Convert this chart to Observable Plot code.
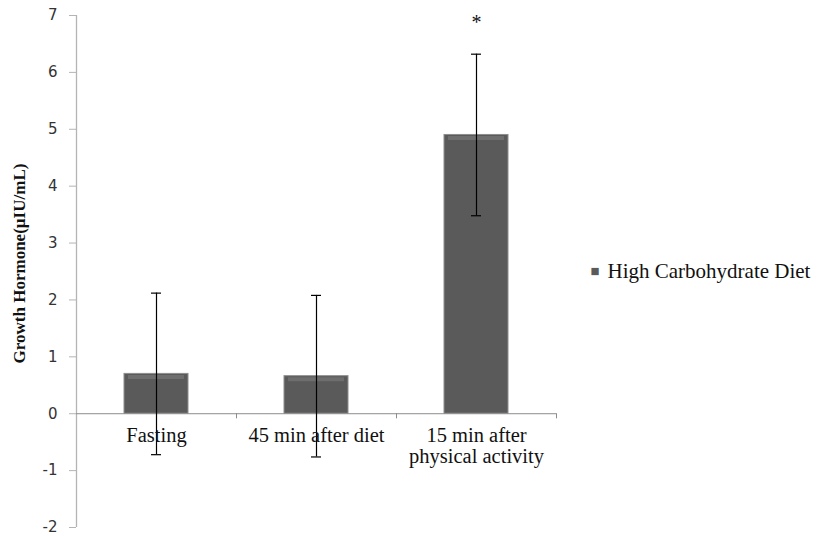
<!DOCTYPE html>
<html>
<head>
<meta charset="utf-8">
<script src="https://cdn.jsdelivr.net/npm/d3@7"></script>
<script src="https://cdn.jsdelivr.net/npm/@observablehq/plot@0.6"></script>
<style>
  html, body { margin: 0; padding: 0; background: #fff; }
  svg { display: block; }
</style>
</head>
<body>
<div id="chart"></div>
<script>
const categories = ["Fasting", "45 min after diet", "15 min after\nphysical activity"];
const values = [0.70, 0.66, 4.90];
const errors = [1.42, 1.42, 1.42];
const yTicks = [-2, -1, 0, 1, 2, 3, 4, 5, 6, 7];
const seriesName = "High Carbohydrate Diet";
const yLabel = "Growth Hormone(µIU/mL)";
const significance = [{cat: categories[2], y: 6.88, label: "*"}];

const data = categories.map((c, i) => ({cat: c, value: values[i], lo: values[i] - errors[i], hi: values[i] + errors[i]}));

const serif = "'Liberation Serif', 'Times New Roman', serif";
const sans = "'DejaVu Sans', Verdana, sans-serif";

const chart = Plot.plot({
  width: 822,
  height: 536,
  marginLeft: 76,
  marginRight: 266,
  marginTop: 15,
  marginBottom: 9,
  style: {background: "#fff", overflow: "visible"},
  x: {domain: categories, paddingInner: 0.6, paddingOuter: 0.3, axis: null},
  y: {domain: [-2, 7], ticks: yTicks},
  marks: [
    // y axis line
    Plot.ruleX([categories[0]], {dx: -80, y1: -2, y2: 7, stroke: "#b4b4b4", strokeWidth: 1.3}),
    Plot.axisY({ticks: yTicks, tickSize: 7, tickPadding: 12, tickFormat: d => String(d), stroke: "#b4b4b4", fill: "#333", fontSize: 15, fontFamily: sans, label: null}),
    // bars with bevel look
    Plot.barY(data, {x: "cat", y1: 0, y2: "value", fill: "#5a5a5a", stroke: "#8e8e8e", strokeWidth: 1}),
    Plot.tickY(data, {x: "cat", y: "value", dy: 3, insetLeft: 4, insetRight: 4, stroke: "#6e6e6e", strokeWidth: 4}),
    // zero axis line
    Plot.ruleY([0], {stroke: "#8c8c8c", strokeWidth: 1}),
    Plot.ruleX(categories, {x: d => d, dx: 80, y1: 0, y2: -0.09, stroke: "#8c8c8c"}),
    // error bars
    Plot.ruleX(data, {x: "cat", y1: "lo", y2: "hi", stroke: "#000", strokeWidth: 1.2}),
    Plot.tickY(data, {x: "cat", y: "lo", insetLeft: 27, insetRight: 27, stroke: "#000", strokeWidth: 1.2}),
    Plot.tickY(data, {x: "cat", y: "hi", insetLeft: 27, insetRight: 27, stroke: "#000", strokeWidth: 1.2}),
    // category labels
    Plot.text(categories, {x: d => d, y: 0, dy: 14, text: d => d, lineAnchor: "top", lineHeight: 1.0, fontFamily: serif, fontSize: 20.5, fill: "#111"}),
    // significance
    Plot.text(significance, {x: "cat", y: "y", text: "label", fontFamily: serif, fontSize: 20, fill: "#111"}),
    // y label
    Plot.text([yLabel], {frameAnchor: "left", dx: -57, dy: -8, rotate: -90, textAnchor: "middle", text: d => d, fontFamily: serif, fontSize: 17, fontWeight: "bold", fill: "#111"}),
    // legend
    Plot.text(["■"], {frameAnchor: "right", dx: 34, text: d => d, textAnchor: "start", fontSize: 15, fill: "#5a5a5a"}),
    Plot.text([seriesName], {frameAnchor: "right", dx: 51, text: d => d, textAnchor: "start", fontFamily: serif, fontSize: 21, fill: "#111"})
  ]
});
document.getElementById("chart").appendChild(chart);
</script>
</body>
</html>
